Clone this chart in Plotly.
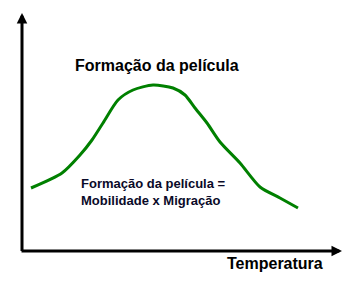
import plotly.graph_objects as go

# Curve data: temperature vs film formation (arbitrary units)
temperatura = [31, 62, 80, 92, 103, 118, 133, 153, 173, 185, 195, 207, 220, 240, 260, 280, 298]
formacao = [97, 112, 130, 145, 162, 185, 195, 200, 197, 190, 177, 162, 143, 122, 98, 87, 77]

titulo = "Formação da película"
formula = "Formação da película =<br>Mobilidade x Migração"
eixo_x = "Temperatura"

fig = go.Figure()
fig.add_trace(go.Scatter(
    x=temperatura, y=formacao, mode="lines",
    line=dict(color="#008000", width=3, shape="spline", smoothing=0.7),
    hoverinfo="skip", showlegend=False,
))

font = "Liberation Sans, Arial, sans-serif"
ann = [
    # axes arrows
    dict(x=342, y=34, ax=20, ay=34, xref="x", yref="y", axref="x", ayref="y",
         showarrow=True, arrowhead=2, arrowsize=0.7, arrowwidth=3, arrowcolor="black", text=""),
    dict(x=22, y=272, ax=22, ay=32.5, xref="x", yref="y", axref="x", ayref="y",
         showarrow=True, arrowhead=2, arrowsize=0.7, arrowwidth=3, arrowcolor="black", text=""),
    dict(x=157, y=220, xref="x", yref="y", text="<b>" + titulo + "</b>", showarrow=False,
         font=dict(family=font, size=16, color="#000000"), xanchor="center", yanchor="middle"),
    dict(x=79, y=93, xref="x", yref="y", text="<b>" + formula + "</b>", showarrow=False,
         font=dict(family=font, size=13, color="#0a0a28"), xanchor="left", yanchor="middle", align="left"),
    dict(x=275, y=22, xref="x", yref="y", text="<b>" + eixo_x + "</b>", showarrow=False,
         font=dict(family=font, size=16, color="#000000"), xanchor="center", yanchor="middle"),
]

fig.update_layout(
    width=354, height=285, margin=dict(l=0, r=0, t=0, b=0),
    paper_bgcolor="white", plot_bgcolor="white",
    xaxis=dict(range=[0, 354], visible=False, fixedrange=True),
    yaxis=dict(range=[0, 285], visible=False, fixedrange=True),
    annotations=ann,
)
fig.write_html("out.html")
